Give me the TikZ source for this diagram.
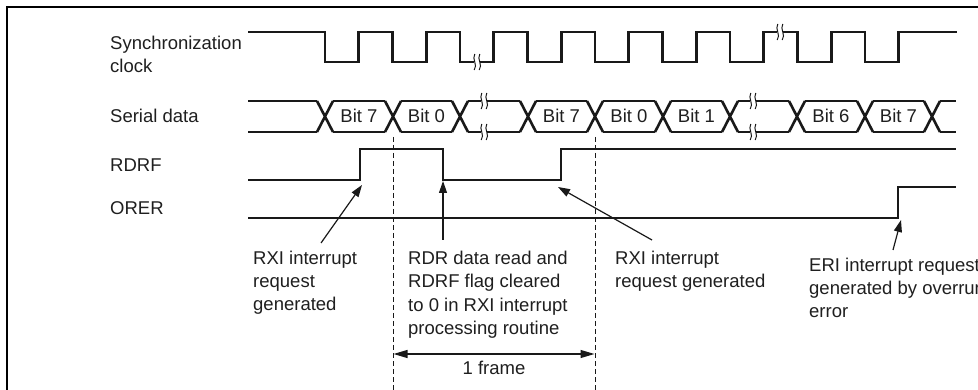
\documentclass[tikz,border=0pt]{standalone}
\usepackage{fontspec}
\setmainfont{Liberation Sans}
\usetikzlibrary{arrows.meta}
\begin{document}
\begin{tikzpicture}[x=1pt,y=-1pt,
  sig/.style={line width=2.6pt, line join=miter, line cap=butt, black!90},
  lbl/.style={font=\fontsize{18.5}{23.5}\selectfont, align=left, inner sep=0pt, anchor=base west, text=black!88},
  bitl/.style={font=\fontsize{18.5}{23.5}\selectfont, inner sep=0pt, text=black!88},
  callout/.style={line width=1.2pt, black!90, -{Triangle[length=12pt,width=8pt]}},
  guide/.style={line width=0.9pt, black!90, dash pattern=on 5pt off 3pt},
  brk/.pic={
    \fill[white] (-2.6,-4) rectangle (2.6,4);
    \draw[line width=1pt, black!90] (-2.2,-8) .. controls (-5.5,-3) and (1.2,3) .. (-2.8,8);
    \draw[line width=1pt, black!90] (2.8,-8) .. controls (-0.5,-3) and (6.2,3) .. (2.2,8);
  }]
\useasboundingbox (0,0) rectangle (978,390);
\fill[white] (0,0) rectangle (978,390);
% frame
\draw[line width=2.5pt, black] (7,392) -- (7,7) -- (980,7);

% labels (base anchor = baseline of last line)
\node[lbl] (lsync) at (110,73) {Synchronization\\clock};
\node[lbl] (lser) at (110,123) {Serial data};
\node[lbl] (lrdrf) at (110,171.5) {RDRF};
\node[lbl] (lorer) at (110,214.5) {ORER};

% clock
\draw[sig] (248,32) -| (325,62) -| (358.75,32) -| (392.5,62) -| (426.25,32)
  -| (460,62) -| (493.75,32) -| (527.5,62) -| (561.25,32) -| (595,62)
  -| (628.75,32) -| (662.5,62) -| (696.25,32) -| (730,62) -| (763.75,32)
  -| (797.5,62) -| (831.25,32) -| (865,62) -| (898.75,32) -- (957,32);

% serial data
\draw[sig] (248,101) -- (317,101) (248,132) -- (317,132);
\foreach \c in {325,393,460,528,595,663,730,797,865,932}{
  \draw[sig] (\c-8,101) -- (\c+8,132) (\c-8,132) -- (\c+8,101);
}
\foreach \a/\b in {325/393,393/460,460/528,528/595,595/663,663/730,730/797,797/865,865/932}{
  \draw[sig] (\a+8,101) -- (\b-8,101) (\a+8,132) -- (\b-8,132);
}
\draw[sig] (940,101) -- (956,101) (940,132) -- (956,132);

% breaks
\pic at (477,62) {brk};
\pic at (780,32) {brk};
\pic at (484,101) {brk};
\pic at (484,132) {brk};
\pic at (753,101) {brk};
\pic at (753,132) {brk};

% bit labels
\node[bitl] (b1) at (359,116) {Bit 7};
\node[bitl] (b2) at (426.5,116) {Bit 0};
\node[bitl] (b3) at (561.5,116) {Bit 7};
\node[bitl] (b4) at (629,116) {Bit 0};
\node[bitl] (b5) at (696.5,116) {Bit 1};
\node[bitl] (b6) at (831,116) {Bit 6};
\node[bitl] (b7) at (898.5,116) {Bit 7};

% RDRF
\draw[sig] (248,180) -| (360,149) -| (443,180) -| (561,149) -- (956,149);
% ORER
\draw[sig] (248,218) -| (898,187) -- (956,187);

% dashed guides
\draw[guide] (393,137) -- (393,390);
\draw[guide] (595,137) -- (595,390);

% annotations
\node[lbl] (t1) at (253,311) {RXI interrupt\\request\\generated};
\node[lbl] (t2) at (408,334.5) {RDR data read and\\RDRF flag cleared\\to 0 in RXI interrupt\\processing routine};
\node[lbl] (t3) at (615,287.5) {RXI interrupt\\request generated};
\node[lbl] (t4) at (809,318) {ERI interrupt request\\generated by overrun\\error};

\coordinate (a1s) at (321,243); \coordinate (a1e) at (362,185);
\coordinate (a2s) at (443,240); \coordinate (a2e) at (443,181);
\coordinate (a3s) at (652,240); \coordinate (a3e) at (558,187);
\coordinate (a4s) at (893,250); \coordinate (a4e) at (901,220);
\draw[callout] (a1s) -- (a1e);
\draw[callout] (a2s) -- (a2e);
\draw[callout] (a3s) -- (a3e);
\draw[callout] (a4s) -- (a4e);

% 1 frame
\coordinate (fl) at (393.5,354); \coordinate (fr) at (594.5,354);
\draw[line width=1.2pt, black!90, {Triangle[length=14pt,width=8pt]}-{Triangle[length=14pt,width=8pt]}] (fl) -- (fr);
\node[bitl] (frame) at (494,368) {1 frame};
\end{tikzpicture}
\end{document}
